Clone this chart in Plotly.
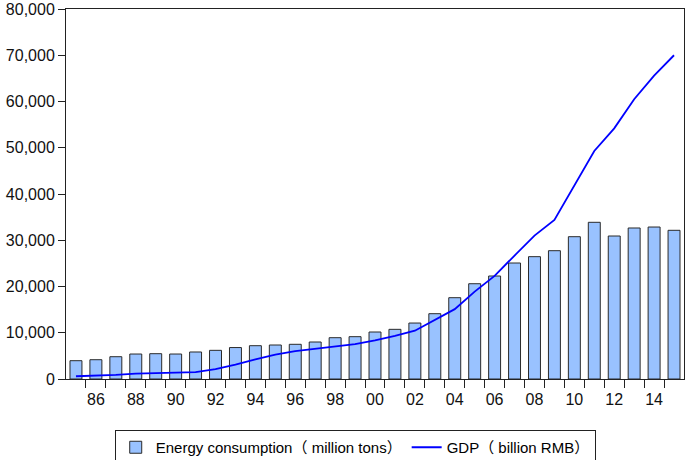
import plotly.graph_objects as go

# data
years = list(range(1985, 2016))
energy = [3960, 4170, 4820, 5400, 5470, 5400, 5840, 6200, 6800, 7200,
          7350, 7500, 8000, 8930, 9150, 10160, 10740, 12100, 14120, 17580,
          20600, 22270, 25080, 26450, 27740, 30770, 33880, 30920, 32650, 32860,
          32150]
gdp = [600, 700, 900, 1150, 1300, 1380, 1500, 2150, 3100, 4250,
       5250, 6050, 6550, 7050, 7550, 8350, 9300, 10450, 12700, 15100,
       18900, 22300, 26700, 31000, 34400, 41800, 49300, 54200, 60500, 65600,
       70000]
label_years = list(range(1986, 2015, 2))
label_text = [f"{y % 100:02d}" for y in label_years]
y_ticks = list(range(0, 80001, 10000))

font = "Arial, Liberation Sans, Noto Sans CJK SC, sans-serif"

fig = go.Figure()

fig.add_trace(go.Bar(
    x=years, y=energy,
    name="Energy consumption\uff08 million tons\uff09",
    marker=dict(color="#99C2FF", line=dict(color="#2a2a2a", width=1)),
))

fig.add_trace(go.Scatter(
    x=years, y=gdp, mode="lines",
    name="GDP\uff08 billion RMB\uff09",
    line=dict(color="#0000FF", width=1.8),
))

fig.update_layout(
    width=685, height=460,
    margin=dict(l=66, r=1, t=9, b=81, autoexpand=False),
    paper_bgcolor="white", plot_bgcolor="white",
    font=dict(family=font, size=16, color="#111"),
    bargap=0.4,
    showlegend=True,
    legend=dict(
        orientation="h",
        x=0.468, xanchor="center",
        yref="container", y=0.0652, yanchor="top",
        bordercolor="#222", borderwidth=1,
        font=dict(size=15, family=font, color="#000"),
        traceorder="normal",
        itemwidth=30,
        tracegroupgap=0,
    ),
)

fig.update_xaxes(
    range=[1984.5, 2015.5], automargin=False,
    tickmode="array", tickvals=label_years, ticktext=label_text,
    ticks="", ticklabelstandoff=6,
    showgrid=False, zeroline=False,
    showline=True, linecolor="#222", linewidth=1, mirror=True,
    minor=dict(tickmode="array", tickvals=[y + 0.5 for y in years[:-1]],
               ticks="outside", ticklen=8, tickcolor="#222", showgrid=False),
)

fig.update_yaxes(
    range=[0, 80000], automargin=False,
    tickmode="array", tickvals=y_ticks,
    tickformat=",",
    ticks="outside", ticklen=7, tickcolor="#222",
    showgrid=False, zeroline=False,
    showline=True, linecolor="#222", linewidth=1, mirror=True,
)

# page body has a default 8px margin; drop it so the figure sits at the corner
fig.write_html("out.html", config={"displayModeBar": False},
               post_script="document.body.style.margin='0px';")
